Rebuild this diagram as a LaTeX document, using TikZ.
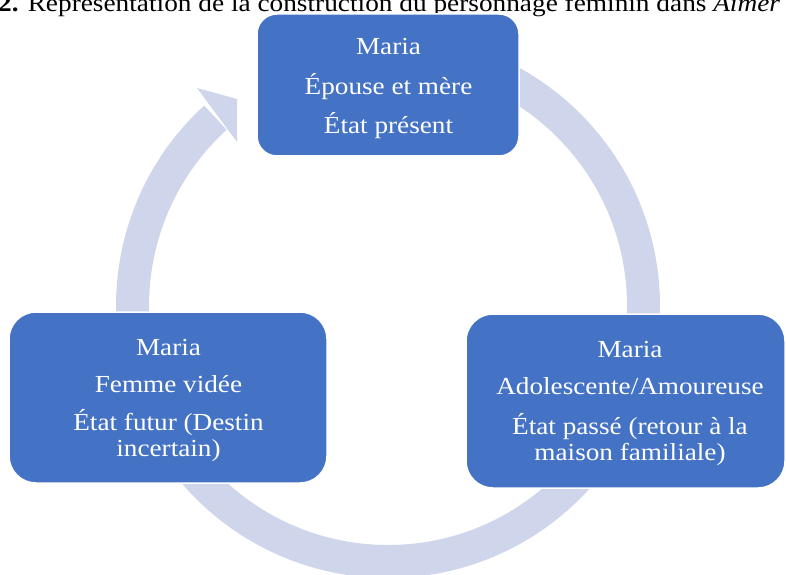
\documentclass[tikz,border=0pt]{standalone}
\usepackage{fontspec}
\setmainfont{Liberation Serif}[FakeStretch=1.11]
\definecolor{boxblue}{HTML}{4472C4}
\definecolor{ringcol}{HTML}{CFD5EA}
\begin{document}
\begin{tikzpicture}[x=1pt,y=1pt,
  boxnode/.style={draw=white, line width=1.5pt, fill=boxblue, rectangle, inner sep=0pt},
  txt/.style={text=white, inner sep=0pt, anchor=base, font=\fontsize{24.5}{26}\selectfont},
  ring/.style={draw=ringcol, line width=33pt},
]
\useasboundingbox (0,0) rectangle (786,574);
\clip (0,0) rectangle (786,574);
% title (cut at top, as in the reference)
\node[anchor=base west, inner sep=0pt, font=\fontsize{24.6}{26}\selectfont] (title) at (-2,562)
  {\textbf{2.} Représentation de la construction du personnage féminin dans \textit{Aimer}};
% ring of arrows
\coordinate (C) at (388,268);
\draw[ring] ([shift={(132.5:255.5pt)}]C) arc[start angle=132.5, end angle=472, radius=255.5pt];
\coordinate (hb1) at (197,486);
\coordinate (tip) at (237,475);
\coordinate (hb2) at (237,432);
\fill[ringcol] (hb1) -- (tip) -- (hb2) -- cycle;
% boxes
\node[boxnode, rounded corners=20pt, minimum width=262pt, minimum height=142pt] (top) at (388,489) {};
\node[boxnode, rounded corners=27pt, minimum width=319pt, minimum height=174pt] (right) at (625.5,173) {};
\node[boxnode, rounded corners=27pt, minimum width=318pt, minimum height=171pt] (left) at (168,176.5) {};
% texts
\node[txt] (toptxt) at (388.5,519) {\begin{tabular}[t]{@{}c@{}}Maria\\[10.5pt]Épouse et mère\\[10.5pt]État présent\end{tabular}};
\node[txt] (righttxt) at (630,217) {\begin{tabular}[t]{@{}c@{}}Maria\\[11.5pt]Adolescente/Amoureuse\\[11.5pt]État passé (retour à la\\maison familiale)\end{tabular}};
\node[txt] (lefttxt) at (168.5,219) {\begin{tabular}[t]{@{}c@{}}Maria\\[11pt]Femme vidée\\[10pt]État futur (Destin\\incertain)\end{tabular}};
\end{tikzpicture}
\end{document}
